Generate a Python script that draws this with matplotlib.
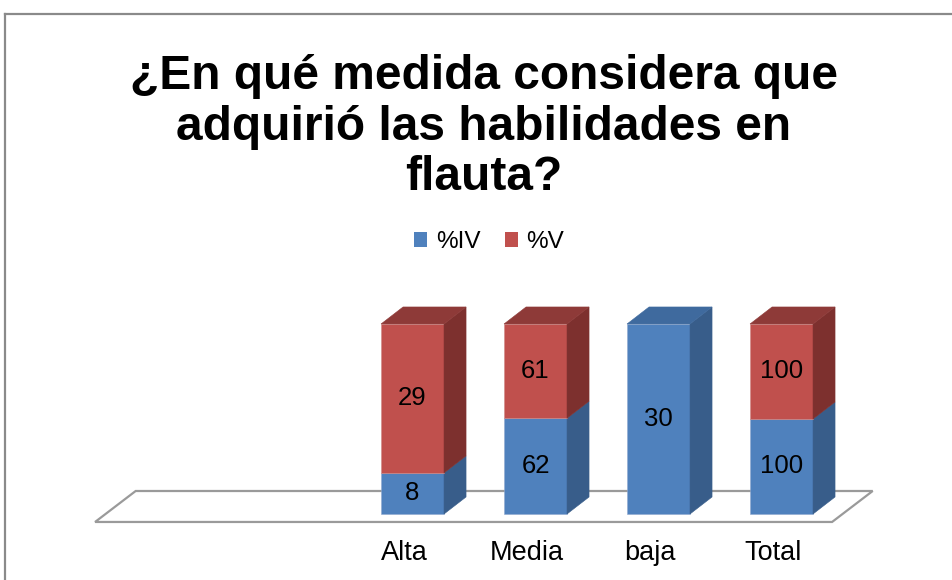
import matplotlib
matplotlib.use("Agg")
import matplotlib.pyplot as plt
from matplotlib.patches import Polygon, Patch
from matplotlib.lines import Line2D

plt.rcParams['font.family'] = ['Liberation Sans', 'DejaVu Sans']

categories = ["", "Alta", "Media", "baja", "Total"]
iv_values = [0, 8, 62, 30, 100]
v_values = [0, 29, 61, 0, 100]
series_names = ["%IV", "%V"]

title = "¿En qué medida considera que\nadquirió las habilidades en\nflauta?"

blue = ("#4F81BD", "#385D8A", "#3F6A9E")   # front, side, top
red = ("#C0504D", "#7D302E", "#8E3A38")

# geometry in data units (x: category, y: percent)
bar_w = 0.512
dx, dy = 0.179, 8.95
floor_front = -4.2
floor_back = 12.1
floor_x = (-1.581, 4.411)
floor_dx = 0.33

fig = plt.figure(figsize=(9.53, 5.80), dpi=100)
ax = fig.add_axes([0, 0, 1, 1])
ax.set_xlim(-2.354, 5.394)
ax.set_ylim(-34.74, 270.5)
ax.axis('off')

# frame of the chart area
fig.add_artist(Line2D([5.5 / 953, 5.5 / 953], [0, 1 - 14 / 580],
                      transform=fig.transFigure, color="#8a8a8a", lw=1.6))
fig.add_artist(Line2D([5.5 / 953, 1], [1 - 14 / 580, 1 - 14 / 580],
                      transform=fig.transFigure, color="#8a8a8a", lw=1.6))

# floor
floor = Polygon([(floor_x[0], floor_front), (floor_x[1], floor_front),
                 (floor_x[1] + floor_dx, floor_back),
                 (floor_x[0] + floor_dx, floor_back)],
                closed=True, facecolor="white", edgecolor="#9a9a9a", lw=1.6,
                zorder=1)
ax.add_patch(floor)


def draw_segment(x0, y0, y1, colors, top):
    x1 = x0 + bar_w
    ax.add_patch(Polygon([(x0, y0), (x1, y0), (x1, y1), (x0, y1)],
                         facecolor=colors[0], edgecolor="#8fa9cf" if colors is blue else "#d08885",
                         lw=0.4, zorder=3))
    ax.add_patch(Polygon([(x1, y0), (x1 + dx, y0 + dy), (x1 + dx, y1 + dy), (x1, y1)],
                         facecolor=colors[1], edgecolor=colors[1], lw=0.4, zorder=3))
    if top:
        ax.add_patch(Polygon([(x0, y1), (x1, y1), (x1 + dx, y1 + dy), (x0 + dx, y1 + dy)],
                             facecolor=colors[2], edgecolor=colors[2], lw=0.4, zorder=3))


for i, (cat, a, b) in enumerate(zip(categories, iv_values, v_values)):
    total = a + b
    if total == 0:
        continue
    pa = 100.0 * a / total
    x0 = i - bar_w / 2
    if a > 0:
        draw_segment(x0, 0, pa, blue, b == 0)
        ax.text(i, pa / 2, str(a), ha="center", va="center", fontsize=18.5, zorder=4)
    if b > 0:
        draw_segment(x0, pa, 100, red, True)
        ax.text(i, (pa + 100) / 2, str(b), ha="center", va="center", fontsize=18.5, zorder=4)

for i, cat in enumerate(categories):
    ax.text(i - 0.07, -20.5, cat, ha="center", va="center", fontsize=19.5)

fig.text(484 / 953, 1 - 127 / 580, title, ha="center", va="center",
         fontsize=34.5, fontweight="bold", linespacing=1.16)

handles = [Patch(facecolor=blue[0]), Patch(facecolor=red[0])]
fig.legend(handles, series_names, loc="center",
           bbox_to_anchor=(489 / 953, 1 - 242 / 580), ncol=2, frameon=False,
           fontsize=17.5, handlelength=0.55, handleheight=0.55,
           handletextpad=0.35, columnspacing=1.0)

fig.savefig("out.png", dpi=100)
